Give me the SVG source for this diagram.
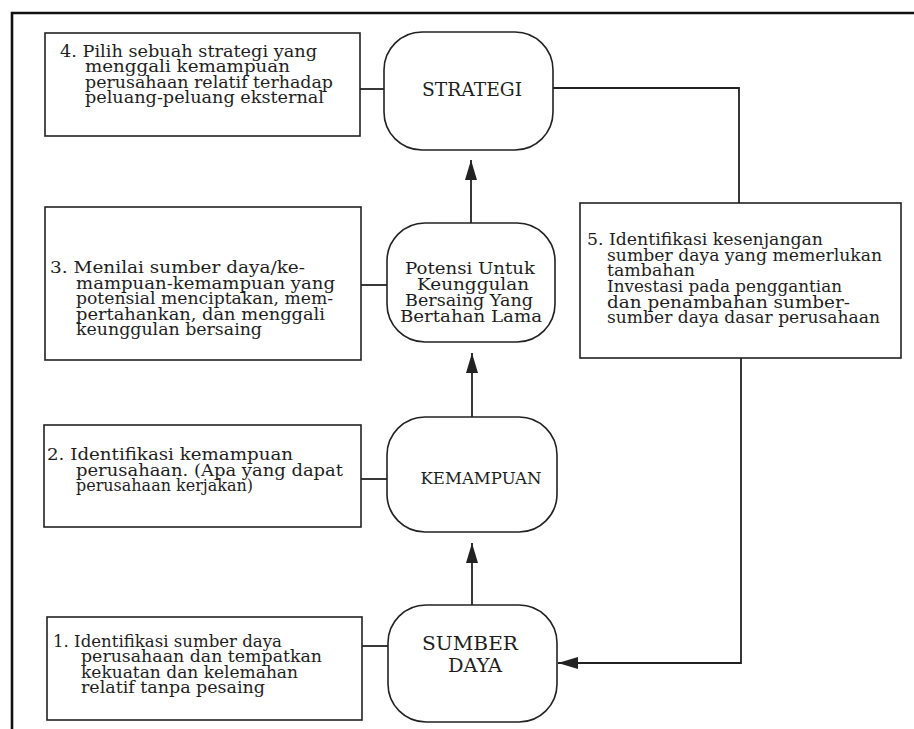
<svg xmlns="http://www.w3.org/2000/svg" width="914" height="729" viewBox="0 0 914 729">
  <style>
    .frame { fill: none; stroke: #111; stroke-width: 2.6; }
    .box { fill: none; stroke: #222; stroke-width: 1.6; }
    .node { fill: none; stroke: #222; stroke-width: 1.6; }
    .link { fill: none; stroke: #222; stroke-width: 1.8; }
    .t { font-family: "DejaVu Serif", "Liberation Serif", serif; font-size: 16.5px; fill: #1e1e1e; }
    .n { font-family: "DejaVu Serif", "Liberation Serif", serif; font-size: 19px; fill: #1e1e1e; text-anchor: middle; }
    .nm { font-family: "DejaVu Serif", "Liberation Serif", serif; font-size: 17.5px; fill: #1e1e1e; text-anchor: middle; }
  </style>
  <defs>
    <marker id="arrow" viewBox="0 0 20 12" refX="20" refY="6" markerWidth="20" markerHeight="12" markerUnits="userSpaceOnUse" orient="auto">
      <path d="M0,0 L20,6 L0,12 Z" fill="#222"/>
    </marker>
  </defs>

  <rect width="914" height="729" fill="#ffffff"/>

  <!-- outer frame (top and left edges) -->
  <path class="frame" d="M12,729 L12,13 L914,13"/>

  <!-- connectors -->
  <g id="connectors">
    <line class="link" x1="360" y1="89" x2="384" y2="89"/>
    <line class="link" x1="361" y1="285" x2="387" y2="285"/>
    <line class="link" x1="361" y1="479" x2="387" y2="479"/>
    <line class="link" x1="362" y1="646" x2="388" y2="646"/>
    <line class="link" x1="471" y1="223" x2="471" y2="160" marker-end="url(#arrow)"/>
    <line class="link" x1="472" y1="417" x2="472" y2="353" marker-end="url(#arrow)"/>
    <line class="link" x1="472" y1="605" x2="472" y2="543" marker-end="url(#arrow)"/>
    <polyline class="link" points="553,88 739,88 739,203"/>
    <polyline class="link" points="741,358 741,663 558,663" marker-end="url(#arrow)"/>
  </g>

  <!-- step 4 -->
  <g id="box4">
    <rect class="box" x="45" y="33" width="315" height="103"/>
    <text class="t" x="60" y="56.75" textLength="257" lengthAdjust="spacingAndGlyphs">4. Pilih sebuah strategi yang</text>
    <text class="t" x="85" y="72.25" textLength="205" lengthAdjust="spacingAndGlyphs">menggali kemampuan</text>
    <text class="t" x="85" y="87.75" textLength="248" lengthAdjust="spacingAndGlyphs">perusahaan relatif terhadap</text>
    <text class="t" x="85" y="103.25" textLength="239" lengthAdjust="spacingAndGlyphs">peluang-peluang eksternal</text>
  </g>

  <!-- step 3 -->
  <g id="box3">
    <rect class="box" x="45" y="207" width="316" height="153"/>
    <text class="t" x="50" y="273" textLength="255" lengthAdjust="spacingAndGlyphs">3. Menilai sumber daya/ke-</text>
    <text class="t" x="76" y="288.5" textLength="259" lengthAdjust="spacingAndGlyphs">mampuan-kemampuan yang</text>
    <text class="t" x="76" y="304" textLength="257" lengthAdjust="spacingAndGlyphs">potensial menciptakan, mem-</text>
    <text class="t" x="76" y="319.5" textLength="249" lengthAdjust="spacingAndGlyphs">pertahankan, dan menggali</text>
    <text class="t" x="76" y="335" textLength="186" lengthAdjust="spacingAndGlyphs">keunggulan bersaing</text>
  </g>

  <!-- step 2 -->
  <g id="box2">
    <rect class="box" x="44" y="425" width="317" height="102"/>
    <text class="t" x="47" y="460" textLength="246" lengthAdjust="spacingAndGlyphs">2. Identifikasi kemampuan</text>
    <text class="t" x="76" y="475.5" textLength="267" lengthAdjust="spacingAndGlyphs">perusahaan. (Apa yang dapat</text>
    <text class="t" x="76" y="491" textLength="177" lengthAdjust="spacingAndGlyphs">perusahaan kerjakan)</text>
  </g>

  <!-- step 1 -->
  <g id="box1">
    <rect class="box" x="47" y="617" width="315" height="103"/>
    <text class="t" x="53" y="646.5" textLength="229" lengthAdjust="spacingAndGlyphs">1. Identifikasi sumber daya</text>
    <text class="t" x="81" y="662" textLength="241" lengthAdjust="spacingAndGlyphs">perusahaan dan tempatkan</text>
    <text class="t" x="81" y="677.5" textLength="217" lengthAdjust="spacingAndGlyphs">kekuatan dan kelemahan</text>
    <text class="t" x="81" y="693" textLength="184" lengthAdjust="spacingAndGlyphs">relatif tanpa pesaing</text>
  </g>

  <!-- step 5 -->
  <g id="box5">
    <rect class="box" x="580" y="203" width="321" height="155"/>
    <text class="t" x="587" y="245" textLength="236" lengthAdjust="spacingAndGlyphs">5. Identifikasi kesenjangan</text>
    <text class="t" x="607" y="260.5" textLength="275" lengthAdjust="spacingAndGlyphs">sumber daya yang memerlukan</text>
    <text class="t" x="607" y="276" textLength="88" lengthAdjust="spacingAndGlyphs">tambahan</text>
    <text class="t" x="607" y="292" textLength="235" lengthAdjust="spacingAndGlyphs">Investasi pada penggantian</text>
    <text class="t" x="607" y="307.5" textLength="243" lengthAdjust="spacingAndGlyphs">dan penambahan sumber-</text>
    <text class="t" x="607" y="323" textLength="273" lengthAdjust="spacingAndGlyphs">sumber daya dasar perusahaan</text>
  </g>

  <!-- rounded stage nodes -->
  <g id="strategi">
    <rect class="node" x="384" y="32" width="169" height="118" rx="38" ry="38"/>
    <text class="n" x="472" y="96" textLength="100" lengthAdjust="spacingAndGlyphs">STRATEGI</text>
  </g>

  <g id="potensi">
    <rect class="node" x="387" y="223" width="168" height="119" rx="38" ry="38"/>
    <text class="nm" x="470" y="274" textLength="130" lengthAdjust="spacingAndGlyphs">Potensi Untuk</text>
    <text class="nm" x="473" y="290" textLength="112" lengthAdjust="spacingAndGlyphs">Keunggulan</text>
    <text class="nm" x="469" y="306" textLength="128" lengthAdjust="spacingAndGlyphs">Bersaing Yang</text>
    <text class="nm" x="471" y="322" textLength="142" lengthAdjust="spacingAndGlyphs">Bertahan Lama</text>
  </g>

  <g id="kemampuan">
    <rect class="node" x="387" y="417" width="170" height="115" rx="38" ry="38"/>
    <text class="nm" x="481" y="484" textLength="121" lengthAdjust="spacingAndGlyphs">KEMAMPUAN</text>
  </g>

  <g id="sumber-daya">
    <rect class="node" x="388" y="605" width="169" height="117" rx="38" ry="38"/>
    <text class="n" x="470" y="650" textLength="96" lengthAdjust="spacingAndGlyphs">SUMBER</text>
    <text class="n" x="475" y="672" textLength="54" lengthAdjust="spacingAndGlyphs">DAYA</text>
  </g>
</svg>
